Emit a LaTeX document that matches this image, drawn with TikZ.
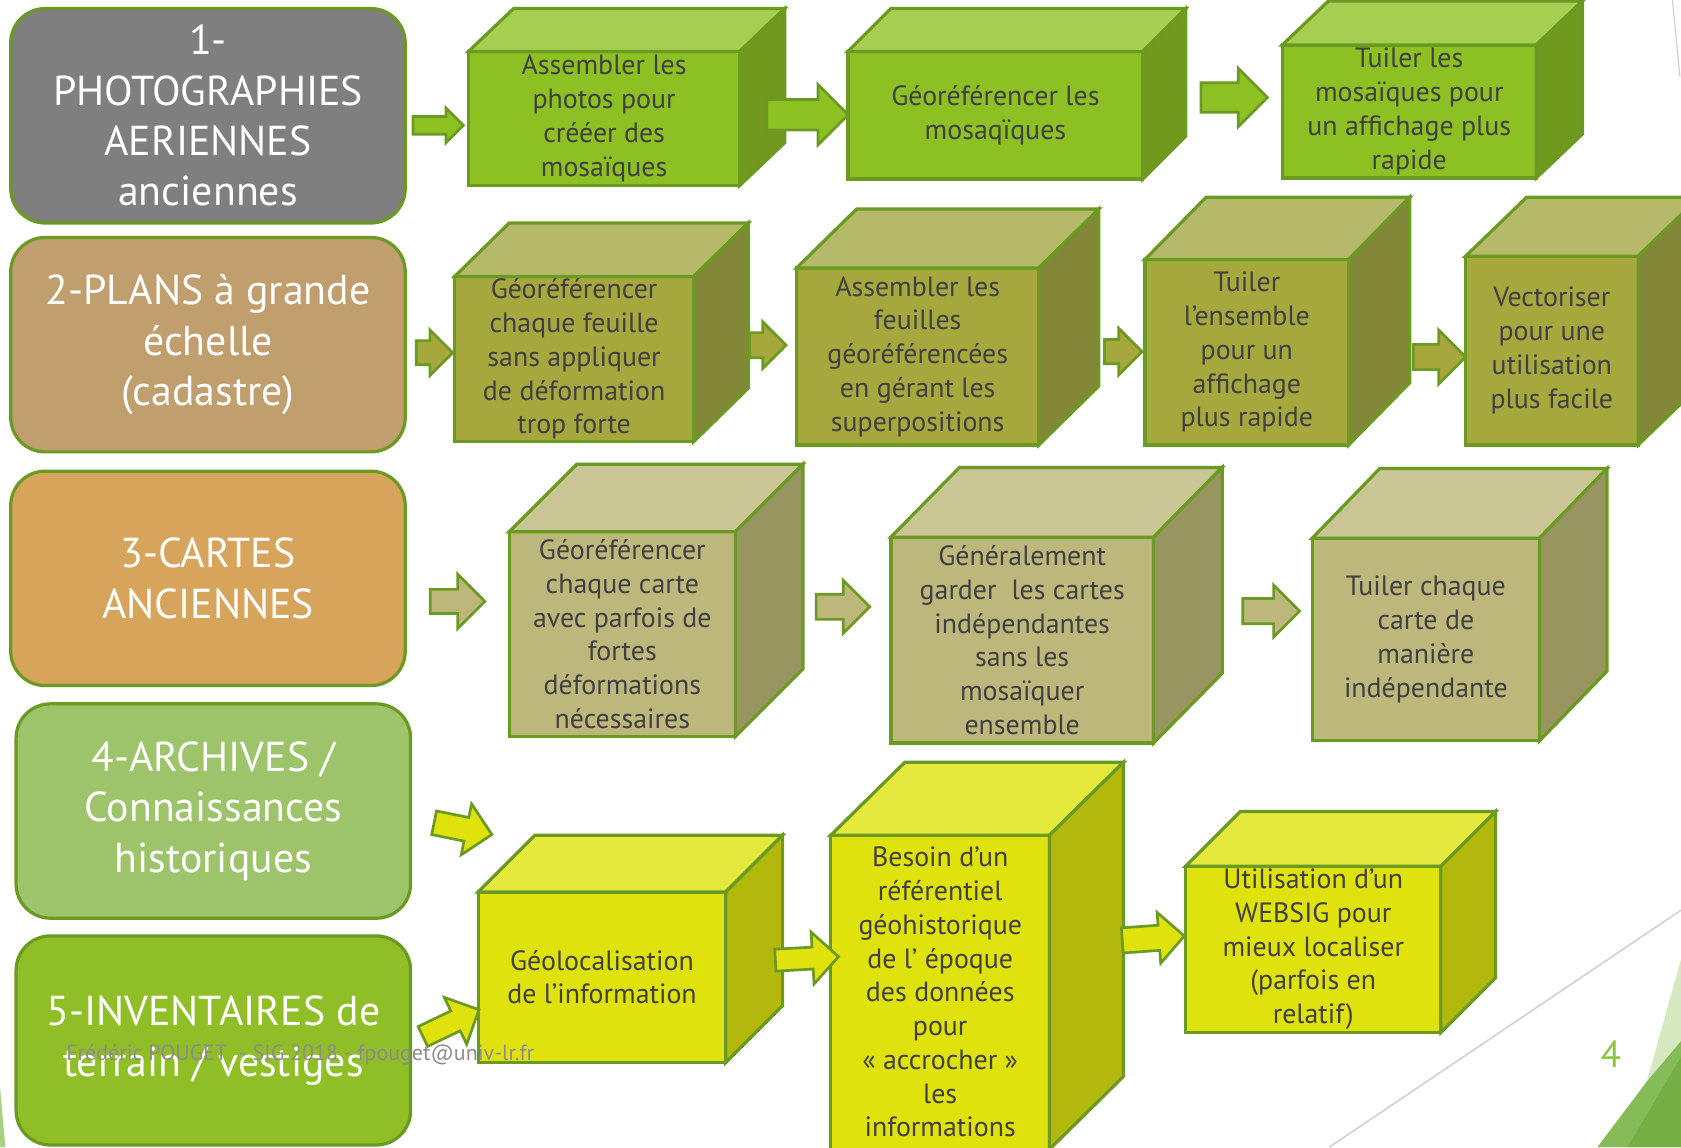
\documentclass[tikz,border=0pt]{standalone}
\usepackage{fontspec}
\setmainfont{PT Sans}
\usetikzlibrary{shapes.arrows,calc}
\definecolor{edge}{HTML}{6A9A22}
\definecolor{txt}{HTML}{404040}
\definecolor{box1}{HTML}{7F7F7F}
\definecolor{box2}{HTML}{C19E6E}
\definecolor{box3}{HTML}{D7A45B}
\definecolor{box4}{HTML}{9DC46B}
\definecolor{box5}{HTML}{8FBE27}
\definecolor{front1}{HTML}{8DC022}
\definecolor{top1}{HTML}{A6CE50}
\definecolor{side1}{HTML}{70991D}
\definecolor{front2}{HTML}{A6A83E}
\definecolor{top2}{HTML}{B6B96A}
\definecolor{side2}{HTML}{838838}
\definecolor{front3}{HTML}{BDB77C}
\definecolor{top3}{HTML}{C9C594}
\definecolor{side3}{HTML}{999561}
\definecolor{front4}{HTML}{E0E20E}
\definecolor{top4}{HTML}{E5E93E}
\definecolor{side4}{HTML}{B3B80C}

\begin{document}
\begin{tikzpicture}[x=1pt,y=-1pt,line width=3pt,
    src/.style={rectangle,rounded corners=32pt,draw=edge,text=white,align=center,inner sep=0pt,
                minimum width=368pt,minimum height=200pt,font=\fontsize{39}{47}\selectfont},
    cube/.style={rectangle,draw=edge,fill=front#1,text=txt,align=center,inner sep=0pt,outer sep=0pt,
                font=\fontsize{26}{31.5}\selectfont},
    blk/.style={single arrow,draw=edge,fill=front#1,line width=2.5pt,inner sep=0pt,text depth=0pt,anchor=tail}]
  \useasboundingbox (0,0) rectangle (1568,1070);

  % slide decoration
  \draw[line width=1.5pt,color=black!18] (1240,1070) -- (1568,849);
  \draw[line width=1pt,color=black!20] (1560,0) -- (1567,72);
  \fill[color={rgb,255:red,214;green,232;blue,192}] (1568,895) -- (1536,1009) -- (1568,971) -- cycle;
  \fill[color={rgb,255:red,133;green,188;blue,88}] (1490,1070) -- (1536,1009) -- (1568,971) -- (1568,1070) -- cycle;
  \fill[color={rgb,255:red,116;green,174;blue,69}] (1518,1070) -- (1568,986) -- (1568,1070) -- cycle;
  \fill[color={rgb,255:red,169;green,207;blue,127}] (0,1014) -- (5,1070) -- (0,1070) -- cycle;

  % sources
  \node[src,fill=box1] 		(p1) at (194,108)   	{1-\\PHOTOGRAPHIES\\AERIENNES\\anciennes};
  \node[src,fill=box2] 		(p2) at (194,321.5) 	{2-PLANS à grande\\échelle\\(cadastre)};
  \node[src,fill=box3] 		(p3) at (194,539.5) 	{3-CARTES\\ANCIENNES};
  \node[src,fill=box4] 		(p4) at (199,756.5) 	{4-ARCHIVES /\\Connaissances\\historiques};
  \node[src,fill=box5] 		(p5) at (199,970.5) [minimum height=195pt] {5-INVENTAIRES de\\terrain / vestiges};

  % cubes (front faces)
  \node[cube=1] (c1a) at (563.5,110.5) [minimum width=253pt,minimum height=125pt] {Assembler les\\photos pour\\crééer des\\mosaïques};
  \node[cube=1] (c1b) at (928.5,107.5) [minimum width=275pt,minimum height=119pt] {Géoréférencer les\\mosaqïques};
  \node[cube=1] (c1c) at (1314.5,104)  [minimum width=237pt,minimum height=124pt] {Tuiler les\\mosaïques pour\\un affichage plus\\rapide};
  \node[cube=2] (c2a) at (535.5,335)   [minimum width=223pt,minimum height=154pt] {Géoréférencer\\chaque feuille\\sans appliquer\\de déformation\\trop forte};
  \node[cube=2] (c2b) at (856,332.5)   [minimum width=226pt,minimum height=165pt] {Assembler les\\feuilles\\géoréférencées\\en gérant les\\superpositions};
  \node[cube=2] (c2c) at (1163,328.5)  [minimum width=190pt,minimum height=173pt] {Tuiler\\l’ensemble\\pour un\\affichage\\plus rapide};
  \node[cube=2] (c2d) at (1447.5,327)  [minimum width=161pt,minimum height=176pt] {Vectoriser\\pour une\\utilisation\\plus facile};
  \node[cube=3] (c3a) at (580.5,591.5) [minimum width=211pt,minimum height=191pt] {Géoréférencer\\chaque carte\\avec parfois de\\fortes\\déformations\\nécessaires};
  \node[cube=3] (c3b) at (953.5,597)   [minimum width=245pt,minimum height=192pt] {Généralement\\garder~~les cartes\\indépendantes\\sans les\\mosaïquer\\ensemble};
  \node[cube=3] (c3c) at (1330,596.5)  [minimum width=212pt,minimum height=189pt] {Tuiler chaque\\carte de\\manière\\indépendante};
  \node[cube=4] (c4a) at (561.5,911.5) [minimum width=231pt,minimum height=159pt] {Géolocalisation\\de l’information};
  \node[cube=4] (c4b) at (877,925.5)   [minimum width=204pt,minimum height=293pt] {Besoin d’un\\référentiel\\géohistorique\\de l’ époque\\des données\\pour\\«~accrocher~»\\les\\informations};
  \node[cube=4] (c4c) at (1225,885.5)  [minimum width=238pt,minimum height=155pt] {Utilisation d’un\\WEBSIG pour\\mieux localiser\\(parfois en\\relatif)};

  % top and side faces
  \foreach \n/\d/\e/\r in {c1a/42/40/1,c1b/40/40/1,c1c/43/41/1,c2a/51/50/2,c2b/56/55/2,c2c/57/58/2,c2d/57/55/2,
                            c3a/63/63/3,c3b/64/65/3,c3c/63/65/3,c4a/53/53/4,c4b/69/68/4,c4c/51/51/4}{
    \filldraw[draw=edge,fill=top\r] (\n.north west) -- ++(\d,-\e) -- ($(\n.north east)+(\d,-\e)$) -- (\n.north east) -- cycle;
    \filldraw[draw=edge,fill=side\r] (\n.north east) -- ++(\d,-\e) -- ($(\n.south east)+(\d,-\e)$) -- (\n.south east) -- cycle;
  }

  % block arrows
  \node[blk=1] (a1)  at (384,117)  [minimum height=47pt,text height=14pt,single arrow head extend=8pt] {};
  \node[blk=1] (a1a) at (714,107)  [minimum height=76pt,text height=26pt,single arrow head extend=14pt] {};
  \node[blk=1] (a1b) at (1119,91)  [minimum height=62pt,text height=25pt,single arrow head extend=13.5pt] {};
  \node[blk=2] (a2)  at (387,329)  [minimum height=34pt,text height=20pt,single arrow head extend=10pt] {};
  \node[blk=2] (a2a) at (698,322)  [minimum height=34pt,text height=21pt,single arrow head extend=10pt] {};
  \node[blk=2] (a2b) at (1029,328) [minimum height=35pt,text height=20pt,single arrow head extend=10.5pt] {};
  \node[blk=2] (a2c) at (1317,333) [minimum height=49pt,text height=21pt,single arrow head extend=13.5pt] {};
  \node[blk=3] (a3)  at (400,561)  [minimum height=51pt,text height=20pt,single arrow head extend=14pt] {};
  \node[blk=3] (a3a) at (760,566)  [minimum height=50pt,text height=21pt,single arrow head extend=13pt] {};
  \node[blk=3] (a3b) at (1158,570) [minimum height=53pt,text height=21pt,single arrow head extend=12.5pt] {};
  \node[blk=4,rotate=-11.5] (a4)  at (403.7,767.2) [minimum height=55pt,text height=20pt,single arrow head extend=13pt] {};
  \node[blk=4,rotate=25.5]  (a5)  at (393.3,967.3) [minimum height=58pt,text height=18pt,single arrow head extend=14pt] {};
  \node[blk=4,rotate=3.2]   (a4a) at (722,895.7)   [minimum height=59pt,text height=18pt,single arrow head extend=14pt] {};
  \node[blk=4,rotate=4.1]   (a4b) at (1045.6,877.3) [minimum height=58pt,text height=21pt,single arrow head extend=12pt] {};

  % footer
  \node[anchor=base,text=black!45,font=\fontsize{20.5}{24}\selectfont] (foot) at (280,989) {Frédéric POUGET~~- SIG 2018 - fpouget@univ-lr.fr};
  \node[anchor=base,text={rgb,255:red,141;green,198;blue,63},font=\fontsize{35}{40}\selectfont] (pnum) at (1502.5,995.5) {4};
\end{tikzpicture}
\end{document}
